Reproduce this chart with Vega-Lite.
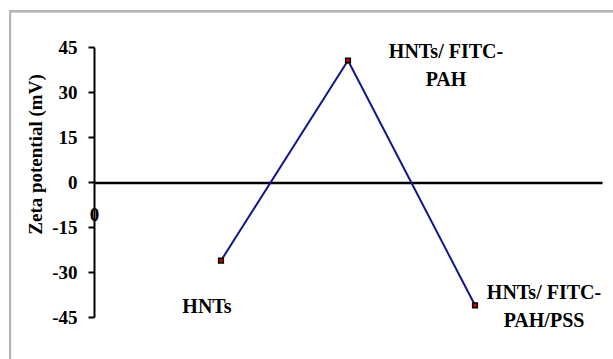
{
  "$schema": "https://vega.github.io/schema/vega-lite/v6.json",
  "width": 508,
  "height": 270,
  "autosize": "none",
  "padding": {"left": 94, "top": 47, "right": 11, "bottom": 42},
  "background": "white",
  "config": {
    "view": {"stroke": null},
    "font": "Liberation Serif"
  },
  "data": {
    "values": [
      {"sample": 1, "zeta": -26.2, "label": "HNTs"},
      {"sample": 2, "zeta": 40.5, "label": "HNTs/ FITC-\nPAH"},
      {"sample": 3, "zeta": -41.1, "label": "HNTs/ FITC-\nPAH/PSS"}
    ]
  },
  "encoding": {
    "x": {
      "field": "sample",
      "type": "quantitative",
      "scale": {"domain": [0, 4], "nice": false, "zero": false},
      "axis": {
        "title": null,
        "offset": -134.5,
        "values": [0],
        "ticks": false,
        "grid": false,
        "labelFlush": false,
        "domainColor": "black",
        "domainWidth": 2.5,
        "labelFont": "Liberation Serif",
        "labelFontWeight": "bold",
        "labelFontSize": 19,
        "labelColor": "black",
        "labelPadding": 23,
        "labelBaseline": "top"
      }
    },
    "y": {
      "field": "zeta",
      "type": "quantitative",
      "scale": {"domain": [-45, 45], "nice": false, "zero": false},
      "axis": {
        "title": "Zeta potential (mV)",
        "values": [-45, -30, -15, 0, 15, 30, 45],
        "labelExpr": "toString(datum.value)",
        "grid": false,
        "domainColor": "black",
        "domainWidth": 2,
        "tickColor": "black",
        "tickWidth": 2,
        "tickSize": 6,
        "labelFont": "Liberation Serif",
        "labelFontWeight": "bold",
        "labelFontSize": 19,
        "labelColor": "black",
        "labelPadding": 11,
        "titleFont": "Liberation Serif",
        "titleFontWeight": "bold",
        "titleFontSize": 19,
        "titleColor": "black",
        "titleAngle": -90,
        "titleAlign": "center",
        "titleBaseline": "middle",
        "titleX": -59,
        "titleY": 107
      }
    }
  },
  "layer": [
    {
      "mark": {"type": "rect", "fill": null, "stroke": "#b4b4b4", "strokeWidth": 2, "clip": false},
      "encoding": {
        "x": {"datum": -0.661, "type": "quantitative"},
        "x2": {"datum": 4.6},
        "y": {"datum": 56.9, "type": "quantitative"},
        "y2": {"datum": -70}
      }
    },
    {
      "mark": {"type": "line", "color": "#14148c", "strokeWidth": 2}
    },
    {
      "mark": {"type": "point", "shape": "square", "size": 22, "filled": true, "fill": "#d40000", "stroke": "black", "strokeWidth": 1.5, "opacity": 1}
    },
    {
      "transform": [{"filter": "datum.sample == 1"}],
      "mark": {"type": "text", "font": "Liberation Serif", "fontWeight": "bold", "fontSize": 20, "color": "black", "align": "center", "baseline": "middle", "dx": -14, "dy": 46}
      ,"encoding": {"text": {"field": "label"}}
    },
    {
      "transform": [{"filter": "datum.sample == 2"}],
      "mark": {"type": "text", "font": "Liberation Serif", "fontWeight": "bold", "fontSize": 20, "color": "black", "align": "center", "baseline": "middle", "lineBreak": "\n", "lineHeight": 28, "dx": 98, "dy": -9}
      ,"encoding": {"text": {"field": "label"}}
    },
    {
      "transform": [{"filter": "datum.sample == 3"}],
      "mark": {"type": "text", "font": "Liberation Serif", "fontWeight": "bold", "fontSize": 20, "color": "black", "align": "center", "baseline": "middle", "lineBreak": "\n", "lineHeight": 28, "dx": 69, "dy": -12}
      ,"encoding": {"text": {"field": "label"}}
    }
  ]
}
